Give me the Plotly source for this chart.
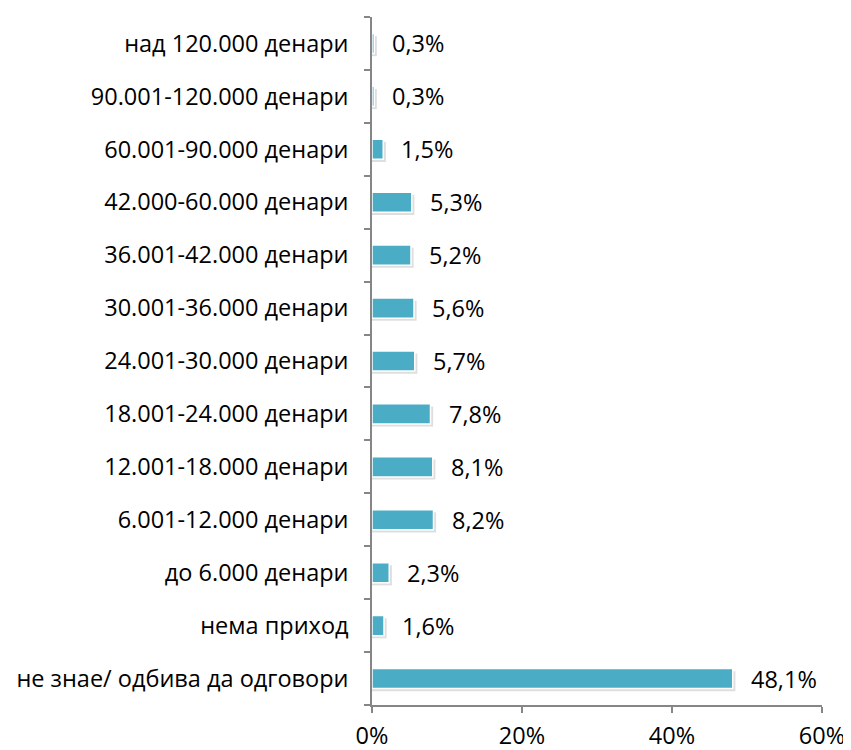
import plotly.graph_objects as go

# Категории (од долу нагоре) и проценти
kategorii = [
    "не знае/ одбива да одговори",
    "нема приход",
    "до 6.000 денари",
    "6.001-12.000 денари",
    "12.001-18.000 денари",
    "18.001-24.000 денари",
    "24.001-30.000 денари",
    "30.001-36.000 денари",
    "36.001-42.000 денари",
    "42.000-60.000 денари",
    "60.001-90.000 денари",
    "90.001-120.000 денари",
    "над 120.000 денари",
]
procenti = [48.1, 1.6, 2.3, 8.2, 8.1, 7.8, 5.7, 5.6, 5.2, 5.3, 1.5, 0.3, 0.3]

x_tickovi = [0, 20, 40, 60]
x_oznaki = ["0%", "20%", "40%", "60%"]

boja = "#4BACC6"
oska = "#868686"
font_ime = "Open Sans"
golemina = 23.5

fig = go.Figure()

# blaga senka pod stolbovite
fig.add_trace(go.Bar(
    y=kategorii,
    x=[v + 0.35 for v in procenti],
    orientation="h",
    width=0.38,
    offset=-0.24,
    marker=dict(color="rgba(0,0,0,0.13)", line=dict(width=0)),
    hoverinfo="skip",
    showlegend=False,
))

fig.add_trace(go.Bar(
    y=kategorii,
    x=procenti,
    orientation="h",
    width=0.38,
    offset=-0.19,
    marker=dict(color=boja, line=dict(color="white", width=1.5)),
    hovertemplate="%{y}: %{x:.1f}%<extra></extra>",
    showlegend=False,
))

for kat, v in zip(kategorii, procenti):
    fig.add_annotation(
        x=v, y=kat,
        text=f"{v:.1f}%".replace(".", ","),
        showarrow=False,
        xanchor="left",
        xshift=16,
        font=dict(family=font_ime, size=golemina, color="black"),
    )

# страницата има 8px маргина на body, затоа фигурата е помала
fig.update_layout(
    width=843,
    height=742,
    margin=dict(l=364, r=29, t=9, b=45),
    plot_bgcolor="white",
    paper_bgcolor="white",
    barmode="overlay",
    font=dict(family=font_ime, size=golemina, color="black"),
    xaxis=dict(
        range=[0, 60],
        tickvals=x_tickovi,
        ticktext=x_oznaki,
        showgrid=False,
        zeroline=False,
        showline=True,
        linecolor=oska,
        linewidth=1.5,
        ticks="outside",
        ticklen=6,
        tickcolor=oska,
        tickwidth=1.5,
        ticklabelstandoff=3,
        automargin=False,
    ),
    yaxis=dict(
        categoryorder="array",
        categoryarray=kategorii,
        showgrid=False,
        showline=True,
        linecolor=oska,
        linewidth=1.5,
        ticks="outside",
        tickson="boundaries",
        ticklen=6,
        tickcolor=oska,
        tickwidth=1.5,
        ticklabelstandoff=17,
        automargin=False,
    ),
)

fig.write_html("out.html")
